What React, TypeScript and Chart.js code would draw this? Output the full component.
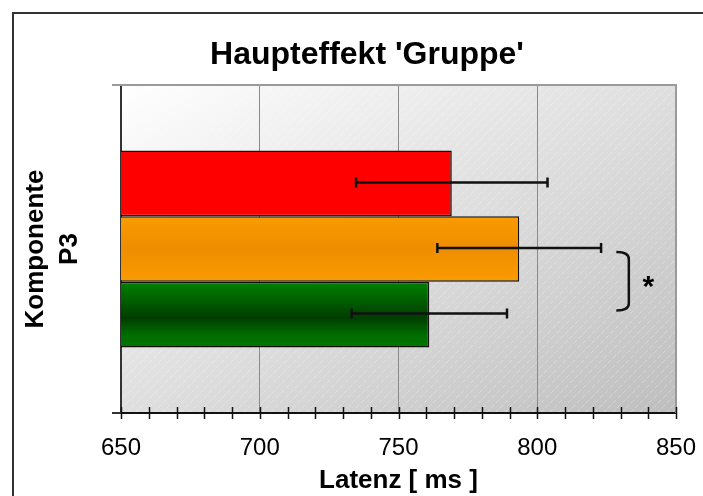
import React, { useEffect, useRef } from 'react';
import { Chart, registerables } from 'chart.js';

Chart.register(...registerables);

// ---------- data ----------
const TITLE = "Haupteffekt 'Gruppe'";
const CATEGORIES = ['P3'];
const Y_AXIS_TITLE = 'Komponente';
const X_AXIS_TITLE = 'Latenz [ ms ]';
const GROUP_NAMES = ['Gruppe 1', 'Gruppe 2', 'Gruppe 3'];
const GROUP_MEANS = [769.2, 793.5, 761.1];
const GROUP_ERRORS = [34.5, 29.5, 28.0];
const X_MIN = 650;
const X_MAX = 850;
const X_MAJOR_STEP = 50;
const X_MINOR_STEP = 10;
const SIG_PAIR = [1, 2];
const SIG_LABEL = '*';
const SIG_BRACKET_FROM = 828.5;
const SIG_BRACKET_TO = 833;
const SIG_LABEL_AT = 840;

// ---------- styles ----------
const FONT = '"Liberation Sans", Arial, Helvetica, sans-serif';
const BAR_STOPS: [number, string][][] = [
  [[0, '#ff0000'], [1, '#ff0000']],
  [[0, '#fb9b00'], [0.5, '#ee8e00'], [1, '#fb9b00']],
  [[0, '#008200'], [0.55, '#003d00'], [0.8, '#006c00'], [1, '#007600']],
];

const barFill = (c: any) => {
  const stops = BAR_STOPS[c.datasetIndex];
  const el = c.element;
  if (!el || !Number.isFinite(el.y) || !el.height) return stops[0][1];
  const top = el.y - el.height / 2;
  const g = c.chart.ctx.createLinearGradient(0, top, 0, top + el.height);
  stops.forEach(([o, col]) => g.addColorStop(o, col));
  return g;
};

const backgroundPlugin = {
  id: 'plotBackground',
  beforeDraw(chart: any) {
    const { ctx, chartArea: a } = chart;
    if (!a) return;
    const w = a.right - a.left;
    const h = a.bottom - a.top;
    ctx.save();
    const k = (2 * w * h) / (w * w + h * h);
    const g = ctx.createLinearGradient(a.left, a.top, a.left + h * k, a.top + w * k);
    g.addColorStop(0, '#ffffff');
    g.addColorStop(1, '#bebebe');
    ctx.fillStyle = g;
    ctx.fillRect(a.left, a.top, w, h);
    ctx.beginPath();
    ctx.rect(a.left, a.top, w, h);
    ctx.clip();
    ctx.strokeStyle = 'rgba(255,255,255,0.3)';
    ctx.lineWidth = 1;
    ctx.setLineDash([5, 2]);
    for (let s = -h; s < w + h; s += 9) {
      ctx.beginPath();
      ctx.moveTo(a.left + s, a.bottom);
      ctx.lineTo(a.left + s + h, a.top);
      ctx.stroke();
    }
    ctx.restore();
  },
};

const overlayPlugin = {
  id: 'overlay',
  afterDatasetsDraw(chart: any) {
    const { ctx, scales } = chart;
    const x = scales.x;
    ctx.save();
    // error bars
    ctx.strokeStyle = '#111';
    ctx.lineWidth = 2.5;
    GROUP_MEANS.forEach((m, i) => {
      const bar = chart.getDatasetMeta(i).data[0];
      if (!bar) return;
      const y = bar.y - 1;
      const lo = x.getPixelForValue(m - GROUP_ERRORS[i]);
      const hi = x.getPixelForValue(m + GROUP_ERRORS[i]);
      ctx.beginPath();
      ctx.moveTo(lo, y);
      ctx.lineTo(hi, y);
      ctx.moveTo(lo, y - 5);
      ctx.lineTo(lo, y + 5);
      ctx.moveTo(hi, y - 5);
      ctx.lineTo(hi, y + 5);
      ctx.stroke();
    });
    // significance bracket
    const b1 = chart.getDatasetMeta(SIG_PAIR[0]).data[0];
    const b2 = chart.getDatasetMeta(SIG_PAIR[1]).data[0];
    if (b1 && b2) {
      const top = b1.y + 3;
      const bottom = b2.y - 4;
      const l = x.getPixelForValue(SIG_BRACKET_FROM);
      const r = x.getPixelForValue(SIG_BRACKET_TO);
      ctx.lineWidth = 2.5;
      ctx.beginPath();
      ctx.moveTo(l, top);
      ctx.quadraticCurveTo(r, top, r, top + 7);
      ctx.lineTo(r, bottom - 7);
      ctx.quadraticCurveTo(r, bottom, l, bottom);
      ctx.stroke();
      ctx.fillStyle = '#000';
      ctx.font = `bold 30px ${FONT}`;
      ctx.textAlign = 'center';
      ctx.textBaseline = 'middle';
      ctx.fillText(SIG_LABEL, x.getPixelForValue(SIG_LABEL_AT), (top + bottom) / 2 + 6);
    }
    ctx.restore();
  },
  afterDraw(chart: any) {
    const { ctx, chartArea: a, scales } = chart;
    const x = scales.x;
    ctx.save();
    // plot frame (top, right)
    ctx.strokeStyle = '#9a9a9a';
    ctx.lineWidth = 2;
    ctx.beginPath();
    ctx.moveTo(a.left - 9, a.top);
    ctx.lineTo(a.right, a.top);
    ctx.lineTo(a.right, a.bottom);
    ctx.stroke();
    // crossing tick marks on x axis
    ctx.strokeStyle = '#111';
    ctx.lineWidth = 1.5;
    x.ticks.forEach((t: any) => {
      const px = Math.round(x.getPixelForValue(t.value)) + 0.5;
      ctx.beginPath();
      ctx.moveTo(px, a.bottom - 6);
      ctx.lineTo(px, a.bottom + 6);
      ctx.stroke();
    });
    // main title
    ctx.fillStyle = '#000';
    ctx.font = `bold 32px ${FONT}`;
    ctx.textAlign = 'center';
    ctx.textBaseline = 'middle';
    ctx.fillText(TITLE, 367, 55);
    ctx.restore();
  },
};

export default function App() {
  const ref = useRef<HTMLCanvasElement | null>(null);

  useEffect(() => {
    if (!ref.current) return;
    const chart = new Chart(ref.current, {
      type: 'bar',
      data: {
        labels: CATEGORIES,
        datasets: GROUP_NAMES.map((name, i) => ({
          label: name,
          data: [GROUP_MEANS[i]],
          backgroundColor: barFill,
          borderColor: '#111',
          borderWidth: 1.5,
          categoryPercentage: 0.6,
          barPercentage: 1,
        })),
      },
      options: {
        indexAxis: 'y',
        responsive: false,
        animation: false,
        events: [],
        layout: { padding: { top: 85, right: 27, left: 0, bottom: 0 } },
        plugins: {
          legend: { display: false },
          title: { display: false },
          tooltip: { enabled: false },
        },
        scales: {
          x: {
            type: 'linear',
            position: 'bottom',
            min: X_MIN,
            max: X_MAX,
            afterFit: (s: any) => {
              s.height = 83;
              s.paddingLeft = 0;
              s.paddingRight = 0;
            },
            ticks: {
              stepSize: X_MINOR_STEP,
              autoSkip: false,
              maxRotation: 0,
              minRotation: 0,
              padding: 21,
              color: '#000',
              font: { family: FONT, size: 24 },
              callback: (v: any) => (Number(v) % X_MAJOR_STEP === 0 ? String(v) : ''),
            },
            grid: {
              drawTicks: false,
              lineWidth: 1,
              color: (c: any) => {
                const v = c.tick ? c.tick.value : NaN;
                return v % X_MAJOR_STEP === 0 && v !== X_MIN && v !== X_MAX ? '#8a8a8a' : 'rgba(0,0,0,0)';
              },
            },
            border: { display: true, color: '#111', width: 2 },
            title: {
              display: true,
              text: X_AXIS_TITLE,
              color: '#000',
              font: { family: FONT, size: 26, weight: 'bold' },
              padding: { top: 0, bottom: 0 },
            },
          },
          y: {
            type: 'category',
            afterFit: (s: any) => {
              s.width = 121;
            },
            ticks: { display: false },
            grid: {
              display: true,
              offset: true,
              drawOnChartArea: false,
              drawTicks: true,
              tickLength: 9,
              color: '#333',
              lineWidth: 2,
            },
            border: { display: true, color: '#333', width: 2 },
            title: {
              display: true,
              text: [Y_AXIS_TITLE, CATEGORIES[0]],
              color: '#000',
              font: { family: FONT, size: 26, weight: 'bold', lineHeight: 1.3 },
              padding: { top: 19, bottom: 0 },
            },
          },
        },
      },
      plugins: [backgroundPlugin, overlayPlugin],
    } as any);
    chart.update();
    return () => chart.destroy();
  }, []);

  return (
    <div
      style={{
        position: 'fixed',
        left: 0,
        top: 0,
        width: 703,
        height: 496,
        overflow: 'hidden',
        background: '#fff',
      }}
    >
      <div
        style={{
          position: 'absolute',
          left: 12,
          top: 12,
          width: 800,
          height: 600,
          border: '2px solid #333',
        }}
      />
      <canvas
        ref={ref}
        width={703}
        height={496}
        style={{ position: 'absolute', left: 0, top: 0, display: 'block' }}
      />
    </div>
  );
}
